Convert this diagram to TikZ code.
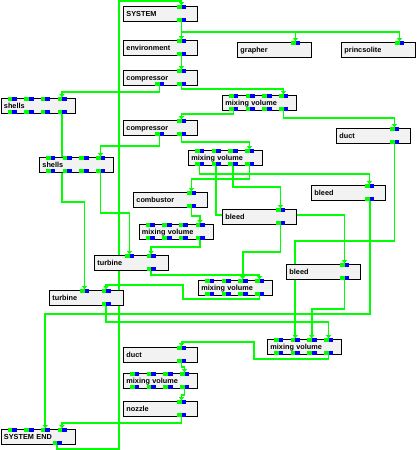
\documentclass[tikz,border=0pt]{standalone}
\usepackage{fontspec}
\setmainfont{Liberation Sans}
\usetikzlibrary{arrows.meta,calc}
\pgfdeclarelayer{bg}
\pgfsetlayers{bg,main}
\definecolor{pg}{RGB}{0,255,0}
\definecolor{pg2}{RGB}{2,252,2}
\definecolor{pb}{RGB}{0,0,255}
\definecolor{boxfill}{RGB}{242,242,242}
\tikzset{
 boxst/.style={draw=black, line width=0.9pt, fill=boxfill, anchor=north west, minimum height=15pt, inner xsep=3pt, inner ysep=0pt, text width=68pt, align=left, text height=5pt, text depth=0pt, font=\fontsize{7.3}{8}\selectfont\bfseries},
 wire/.style={draw=pg, line width=1.6pt},
 conn/.style={wire, -{Triangle[width=5pt,length=3pt]}},
}
% top port: name, x of green, box top
\newcommand\tp[3]{\fill[pg] (#2,#3-0.8) rectangle ++(4.5,4); \fill[pb] (#2+4.5,#3-0.8) rectangle ++(4.8,4); \coordinate (#1) at (#2+4.5,#3-0.8);}
% bottom port: name, x of green, box bottom
\newcommand\bp[3]{\fill[pg] (#2,#3+0.5) rectangle ++(4.5,-4); \fill[pb] (#2+4.5,#3+0.5) rectangle ++(4.8,-4); \coordinate (#1) at (#2+4.5,#3+0.5);}
\newcommand\bx[4]{\node[boxst] (#1) at (#2,#3) {#4};}
\newcommand\fourtop[3]{\tp{#1-i1}{#2+7}{#3}\tp{#1-i2}{#2+23.7}{#3}\tp{#1-i3}{#2+40.3}{#3}\tp{#1-i4}{#2+57}{#3}}
\newcommand\fourbot[3]{\bp{#1-o1}{#2+7}{#3+15}\bp{#1-o2}{#2+23.7}{#3+15}\bp{#1-o3}{#2+40.3}{#3+15}\bp{#1-o4}{#2+57}{#3+15}}
\newcommand\four[3]{\fourtop{#1}{#2}{#3}\fourbot{#1}{#2}{#3}}
\newcommand\one[3]{\tp{#1-i1}{#2+54}{#3}\bp{#1-o1}{#2+54}{#3+15}}
\begin{document}
\begin{tikzpicture}[x=1pt,y=-1pt]
\useasboundingbox (0,0) rectangle (416,450);
% boxes
\bx{sys}{123}{6}{SYSTEM}\one{sys}{123}{6}
\bx{env}{123}{40}{environment}\one{env}{123}{40}
\bx{comp1}{123}{70}{compressor}\tp{comp1-i1}{123+54}{70}\bp{comp1-oA}{123+32}{85}\bp{comp1-oB}{123+54}{85}
\bx{graph}{237}{42}{grapher}\tp{graph-i1}{237+54}{42}
\bx{prin}{341}{42}{princsolite}\tp{prin-i1}{341+54}{42}
\bx{shells1}{0.5}{98}{shells}\four{shells1}{0.5}{98}
\bx{mv1}{222}{95}{mixing volume}\four{mv1}{222}{95}
\bx{comp2}{123}{120}{compressor}\tp{comp2-i1}{123+54}{120}\bp{comp2-oA}{123+32}{135}\bp{comp2-oB}{123+54}{135}
\bx{duct1}{336}{128}{duct}\one{duct1}{336}{128}
\bx{mv2}{188}{150}{mixing volume}\four{mv2}{188}{150}
\bx{shells2}{39}{157}{shells}\four{shells2}{39}{157}
\bx{bleed1}{311}{185}{bleed}\one{bleed1}{311}{185}
\bx{comb}{133}{192}{combustor}\one{comb}{133}{192}
\bx{bleed2}{222}{209}{bleed}\one{bleed2}{222}{209}
\bx{mv3}{138.5}{224}{mixing volume}\four{mv3}{138.5}{224}
\bx{turb1}{94}{255}{turbine}\tp{turb1-i1}{94+31}{255}\tp{turb1-i2}{94+52.5}{255}\bp{turb1-o1}{94+52.5}{270}
\bx{bleed3}{286}{264}{bleed}\one{bleed3}{286}{264}
\bx{mv4}{198}{280}{mixing volume}\four{mv4}{198}{280}
\bx{turb2}{49}{290}{turbine}\tp{turb2-i1}{49+31}{290}\tp{turb2-i2}{49+52.5}{290}\bp{turb2-o1}{49+52.5}{305}
\bx{mv6}{267}{339}{mixing volume}\four{mv6}{267}{339}
\bx{duct2}{123}{347}{duct}\one{duct2}{123}{347}
\bx{mv5}{123}{373}{mixing volume}\four{mv5}{123}{373}
\bx{nozzle}{123}{401}{nozzle}\one{nozzle}{123}{401}
\bx{sysend}{0.5}{429}{SYSTEM END}\fourtop{sysend}{0.5}{429}\bp{sysend-o1}{0.5+52}{444}
% connectors
\begin{pgfonlayer}{bg}
\draw[conn] (sysend-o1) |- (119,449) |- (sys-i1 |- 0,1) -- (sys-i1);
\draw[conn] (sys-o1) -- (env-i1);
\draw[conn] (sys-o1) -- (sys-o1 |- 0,32) -| (graph-i1);
\draw[conn] (sys-o1) -- (sys-o1 |- 0,32) -| (prin-i1);
\draw[conn] (env-o1) -- (comp1-i1);
\draw[conn] (comp1-oA) -- (comp1-oA |- 0,92) -| (shells1-i4);
\draw[conn] (comp1-oB) -- (comp1-oB |- 0,89) -| (mv1-i4);
\draw[conn] (mv1-o1) -- (mv1-o1 |- 0,114) -| (comp2-i1);
\draw[conn] (mv1-o4) -- (mv1-o4 |- 0,118) -| (duct1-i1);
\draw[conn] (shells1-o4) -- (shells1-o4 |- 0,202) -| (turb2-i1);
\draw[conn] (comp2-oA) -- (comp2-oA |- 0,146) -| (shells2-i4);
\draw[conn] (comp2-oB) -- (comp2-oB |- 0,142) -| (mv2-i4);
\draw[conn] (mv2-o1) -- (mv2-o1 |- 0,174) -| (bleed1-i1);
\draw[conn] (mv2-o2) -- (mv2-o2 |- 0,215) -| (bleed3-i1);
\draw[conn] (mv2-o3) -- (mv2-o3 |- 0,187) -| (bleed2-i1);
\draw[conn] (mv2-o4) -- (mv2-o4 |- 0,179) -| (comb-i1);
\draw[conn] (shells2-o4) -- (shells2-o4 |- 0,213) -| (turb1-i1);
\draw[conn] (comb-o1) -- (comb-o1 |- 0,216) -| (mv3-i4);
\draw[conn] (mv3-o4) -- (mv3-o4 |- 0,247) -| (turb1-i2);
\draw[conn] (turb1-o1) -- (turb1-o1 |- 0,275) -| (mv4-i4);
\draw[conn] (bleed2-o1) -- (bleed2-o1 |- 0,252) -| (mv4-i3);
\draw[conn] (mv4-o4) -- (mv4-o4 |- 0,299) -| (183,285) -| (turb2-i2);
\draw[conn] (duct1-o1) -- (duct1-o1 |- 0,241) -| (mv6-i2);
\draw[conn] (bleed3-o1) -- (bleed3-o1 |- 0,309) -| (mv6-i3);
\draw[conn] (turb2-o1) -- (turb2-o1 |- 0,322) -| (mv6-i4);
\draw[conn] (mv6-o4) -- (mv6-o4 |- 0,359) -| (254,342) -| (duct2-i1);
\draw[conn] (duct2-o1) -- (duct2-o1 |- 0,367) -| (mv5-i4);
\draw[conn] (mv5-o4) -- (mv5-o4 |- 0,395) -| (nozzle-i1);
\draw[conn] (nozzle-o1) -- (nozzle-o1 |- 0,423) -| (sysend-i4);
\draw[conn, draw=pg2, line width=2pt] (bleed1-o1) -- (bleed1-o1 |- 0,314) -| (sysend-i3);
\end{pgfonlayer}
\end{tikzpicture}
\end{document}
